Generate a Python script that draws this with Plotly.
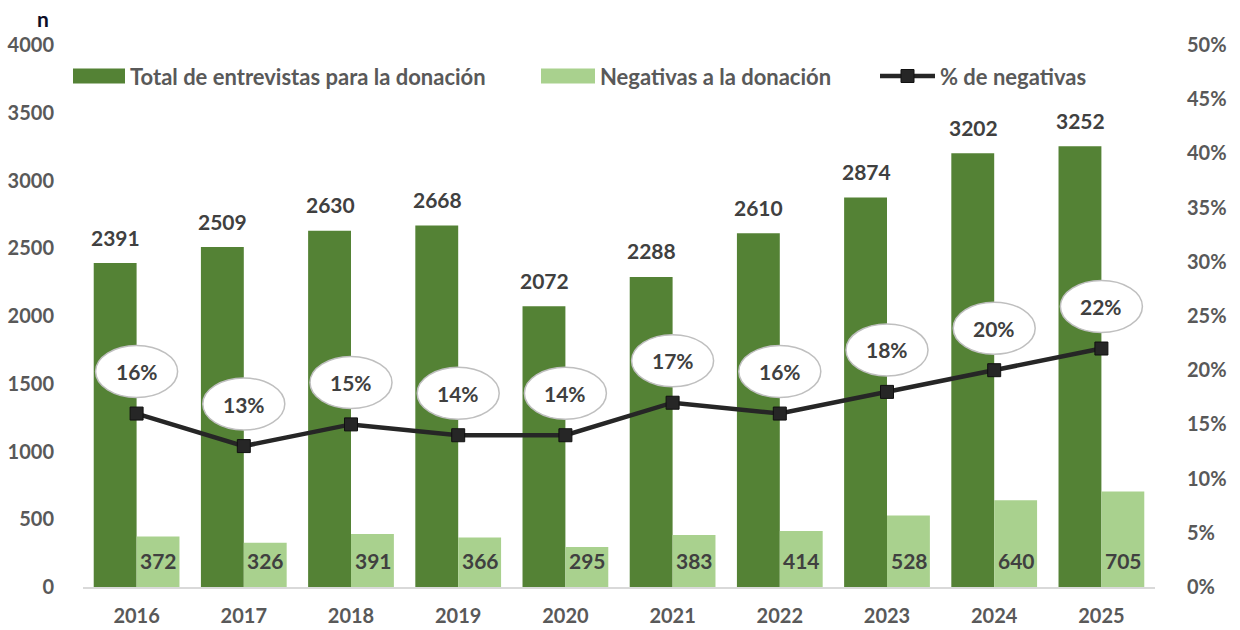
import plotly.graph_objects as go

years = [2016, 2017, 2018, 2019, 2020, 2021, 2022, 2023, 2024, 2025]
total_entrevistas = [2391, 2509, 2630, 2668, 2072, 2288, 2610, 2874, 3202, 3252]
negativas = [372, 326, 391, 366, 295, 383, 414, 528, 640, 705]
pct_negativas = [16, 13, 15, 14, 14, 17, 16, 18, 20, 22]

left_ticks = list(range(0, 4001, 500))
right_ticks = list(range(0, 51, 5))

DARK = "#548235"
LIGHT = "#A9D18E"
LINE = "#262626"
TXT = "#595959"
LBL = "#404040"
FONT = "Lato"

W, H = 1240, 630
ML, MR, MT, MB = 83, 85, 45, 43
PW, PH = W - ML - MR, H - MT - MB


def px(x):
    return (x - ML) / PW


def py(y):
    return (H - MB - y) / PH


fig = go.Figure()

fig.add_trace(go.Bar(
    x=years, y=total_entrevistas, name="Total de entrevistas para la donación",
    marker=dict(color=DARK, line=dict(width=0)),
    offsetgroup="a", showlegend=False,
))
fig.add_trace(go.Bar(
    x=years, y=negativas, name="Negativas a la donación",
    marker=dict(color=LIGHT, line=dict(width=0)),
    offsetgroup="b", showlegend=False,
))
fig.add_trace(go.Scatter(
    x=years, y=pct_negativas, yaxis="y2", mode="lines+markers", name="% de negativas",
    line=dict(color=LINE, width=4.5),
    marker=dict(symbol="square", size=13, color=LINE, line=dict(color="#111111", width=1)),
    showlegend=False, cliponaxis=False,
))

shapes = []
annotations = []
# labels above dark bars (shifted left to the dark bar's centre)
for yr, v in zip(years, total_entrevistas):
    annotations.append(dict(
        x=yr, y=v, xref="x", yref="y", xshift=-21, yshift=26,
        text=str(v), showarrow=False,
        font=dict(family=FONT, size=21, color=LBL, weight="bold"),
    ))
# labels inside the light bars, near their base
for yr, v in zip(years, negativas):
    annotations.append(dict(
        x=yr, y=0, xref="x", yref="y", xshift=22, yshift=27,
        text=str(v), showarrow=False,
        font=dict(family=FONT, size=21, color=LBL, weight="bold"),
    ))

for yr, p in zip(years, pct_negativas):
    shapes.append(dict(
        type="circle", xref="x", yref="y2",
        xsizemode="pixel", ysizemode="pixel",
        xanchor=yr, yanchor=p,
        x0=-41, x1=41, y0=16, y1=68,
        fillcolor="white", line=dict(color="#BFBFBF", width=1.5),
        layer="above",
    ))
    annotations.append(dict(
        x=yr, y=p, xref="x", yref="y2", yshift=42,
        text=f"{p}%", showarrow=False,
        font=dict(family=FONT, size=21, color=LBL, weight="bold"),
    ))

# custom legend
legend_y = 76
legend_items = [
    (73, 125, "bar", DARK, "Total de entrevistas para la donación"),
    (541, 595, "bar", LIGHT, "Negativas a la donación"),
    (880, 935, "line", LINE, "% de negativas"),
]
for x0, x1, kind, col, label in legend_items:
    if kind == "bar":
        shapes.append(dict(
            type="rect", xref="paper", yref="paper",
            x0=px(x0), x1=px(x1), y0=py(legend_y + 7.5), y1=py(legend_y - 7.5),
            fillcolor=col, line=dict(width=0),
        ))
    else:
        shapes.append(dict(
            type="line", xref="paper", yref="paper",
            x0=px(x0), x1=px(x1), y0=py(legend_y), y1=py(legend_y),
            line=dict(color=col, width=4.5),
        ))
        shapes.append(dict(
            type="rect", xref="paper", yref="paper",
            x0=px((x0 + x1) / 2 - 6.5), x1=px((x0 + x1) / 2 + 6.5),
            y0=py(legend_y + 6.5), y1=py(legend_y - 6.5),
            fillcolor=col, line=dict(color="#111111", width=1),
        ))
    annotations.append(dict(
        x=px(x1 + 3), y=py(legend_y), xref="paper", yref="paper",
        xanchor="left", yanchor="middle", text=label, showarrow=False,
        font=dict(family=FONT, size=22, color=TXT, weight="bold"),
    ))

annotations.append(dict(
    x=px(43), y=py(19), xref="paper", yref="paper", xanchor="center", yanchor="middle",
    text="n", showarrow=False,
    font=dict(family=FONT, size=21, color="#0D0D26", weight="bold"),
))

fig.update_layout(
    width=W, height=H,
    margin=dict(l=ML, r=MR, t=MT, b=MB, pad=0, autoexpand=False),
    paper_bgcolor="white", plot_bgcolor="white",
    barmode="group", bargap=0.2, bargroupgap=0,
    shapes=shapes, annotations=annotations,
    showlegend=False,
    xaxis=dict(
        tickmode="array", tickvals=years, ticktext=[str(y) for y in years],
        range=[years[0] - 0.5, years[-1] + 0.5],
        showgrid=False, zeroline=False, automargin=False,
        showline=True, linecolor="#D9D9D9", linewidth=2,
        ticks="outside", ticklen=10, tickcolor="rgba(0,0,0,0)",
        tickfont=dict(family=FONT, size=20, color=TXT, weight="bold"),
        fixedrange=True,
    ),
    yaxis=dict(
        range=[0, 4000], tickmode="array", tickvals=left_ticks,
        ticktext=[str(v) for v in left_ticks],
        showgrid=False, zeroline=False, showline=False, automargin=False,
        ticks="outside", ticklen=24, tickcolor="rgba(0,0,0,0)",
        tickfont=dict(family=FONT, size=20, color=TXT, weight="bold"),
    ),
    yaxis2=dict(
        range=[0, 50], overlaying="y", side="right",
        tickmode="array", tickvals=right_ticks,
        ticktext=[f"{v}%" for v in right_ticks],
        showgrid=False, zeroline=False, showline=False, automargin=False,
        ticks="outside", ticklen=27, tickcolor="rgba(0,0,0,0)",
        tickfont=dict(family=FONT, size=20, color=TXT, weight="bold"),
    ),
)

fig.write_html(
    "out.html",
    config={"displayModeBar": False},
    post_script="document.body.style.margin='0';document.body.style.overflow='hidden';",
)
